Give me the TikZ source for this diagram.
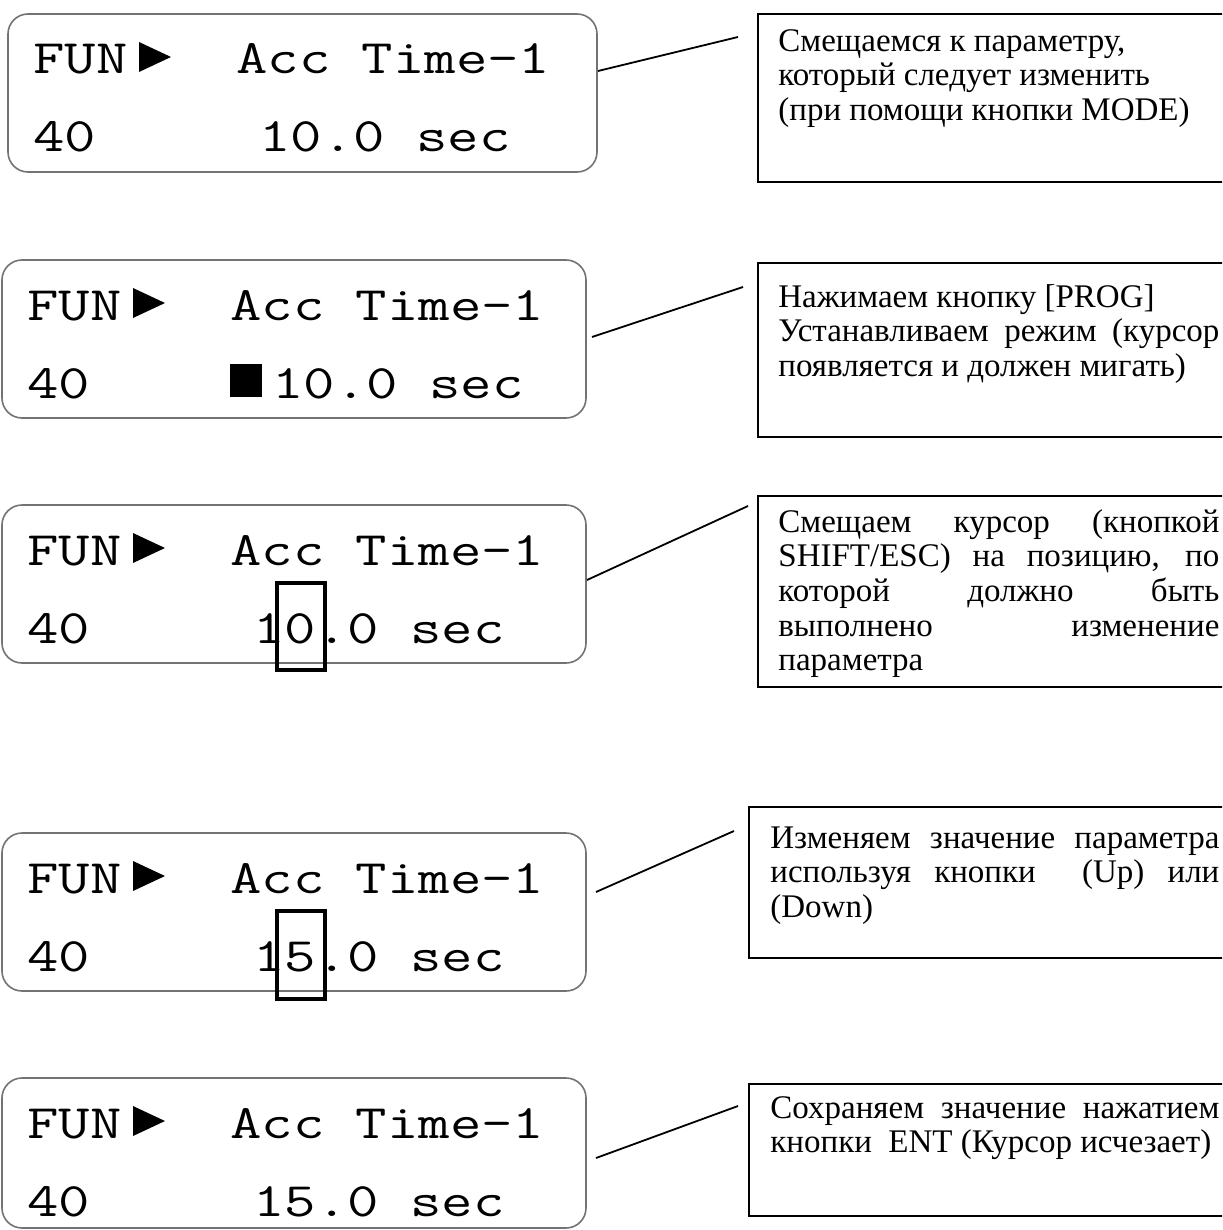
\documentclass[tikz,border=0pt]{standalone}
\usepackage{fontspec}
\setmainfont{Liberation Serif}
\usepackage{graphicx}
\tolerance=10000
\hyphenpenalty=10000
\hbadness=10000
\newcommand{\lcdstr}[1]{\scalebox{1.27}[1]{#1}}
\begin{document}
\begin{tikzpicture}[x=0.5pt,y=-0.5pt,
    lcd/.style={draw=black!55,line width=0.8pt,rounded corners=10pt,anchor=north west,
        inner sep=0pt,outer sep=0pt,minimum width=292pt,minimum height=79pt},
    lcdtext/.style={anchor=base west,inner sep=0pt,font=\ttfamily\fontsize{24}{24}\selectfont},
    cursor/.style={draw,line width=1.8pt},
    note/.style={draw,line width=0.9pt,anchor=north west,inner sep=0pt,outer sep=0pt,minimum width=240pt},
    notetext/.style={anchor=north west,inner sep=0pt,align=justify,text width=220.5pt,
        font=\fontsize{16.5}{17.3}\selectfont},
    link/.style={line width=0.9pt}]
\useasboundingbox (0,0) rectangle (1222,1230);
\clip (0,0) rectangle (1222,1230);

% displays
\begin{scope}[shift={(8,14)}]
    \node[lcd,minimum width=294.5pt] (lcd1) at (0,0) {};
    \node[lcdtext] (fun1) at (25,60) {\lcdstr{FUN}};
    \fill (131,28) -- (163,43) -- (131,58) -- cycle;
    \node[lcdtext] (acc1) at (228,60) {\lcdstr{Acc Time-1}};
    \node[lcdtext] (num1) at (25,138) {\lcdstr{40}};
    \node[lcdtext] (val1) at (251,138) {\lcdstr{10.0 sec}};
\end{scope}
\begin{scope}[shift={(2,260)}]
    \node[lcd] (lcd2) at (0,0) {};
    \node[lcdtext] (fun2) at (25,60) {\lcdstr{FUN}};
    \fill (131,28) -- (163,43) -- (131,58) -- cycle;
    \node[lcdtext] (acc2) at (228,60) {\lcdstr{Acc Time-1}};
    \node[lcdtext] (num2) at (25,138) {\lcdstr{40}};
    \fill (228,104) rectangle (260,137);
    \node[lcdtext] (val2) at (270,138) {\lcdstr{10.0 sec}};
\end{scope}
\begin{scope}[shift={(2,505)}]
    \node[lcd] (lcd3) at (0,0) {};
    \node[lcdtext] (fun3) at (25,60) {\lcdstr{FUN}};
    \fill (131,28) -- (163,43) -- (131,58) -- cycle;
    \node[lcdtext] (acc3) at (228,60) {\lcdstr{Acc Time-1}};
    \node[lcdtext] (num3) at (25,138) {\lcdstr{40}};
    \node[lcdtext] (val3) at (251,138) {\lcdstr{10.0 sec}};
    \draw[cursor] (275,78) rectangle (323,165);
\end{scope}
\begin{scope}[shift={(2,833)}]
    \node[lcd] (lcd4) at (0,0) {};
    \node[lcdtext] (fun4) at (25,60) {\lcdstr{FUN}};
    \fill (131,28) -- (163,43) -- (131,58) -- cycle;
    \node[lcdtext] (acc4) at (228,60) {\lcdstr{Acc Time-1}};
    \node[lcdtext] (num4) at (25,138) {\lcdstr{40}};
    \node[lcdtext] (val4) at (251,138) {\lcdstr{15.0 sec}};
    \draw[cursor] (275,78) rectangle (323,166);
\end{scope}
\begin{scope}[shift={(2,1078)}]
    \node[lcd,minimum height=75pt] (lcd5) at (0,0) {};
    \node[lcdtext] (fun5) at (25,60) {\lcdstr{FUN}};
    \fill (131,28) -- (163,43) -- (131,58) -- cycle;
    \node[lcdtext] (acc5) at (228,60) {\lcdstr{Acc Time-1}};
    \node[lcdtext] (num5) at (25,138) {\lcdstr{40}};
    \node[lcdtext] (val5) at (251,138) {\lcdstr{15.0 sec}};
\end{scope}

% notes
\node[note,minimum height=84pt] (box1) at (758,14) {};
\node[notetext] (txt1) at ([shift={(20,15)}]box1.north west)
    {Смещаемся к параметру,\\ который следует изменить\\ (при помощи кнопки MODE)};
\node[note,minimum height=87pt] (box2) at (758,263) {};
\node[notetext] (txt2) at ([shift={(20,21)}]box2.north west)
    {Нажимаем кнопку [PROG]\\ Устанавливаем режим (курсор\linebreak появляется и должен мигать)};
\node[note,minimum height=95.5pt] (box3) at (758,496) {};
\node[notetext] (txt3) at ([shift={(20,13)}]box3.north west)
    {Смещаем курсор (кнопкой\linebreak SHIFT/ESC) на позицию, по\linebreak которой должно быть\linebreak
     выполнено изменение\linebreak параметра};
\node[note,minimum height=75.5pt] (box4) at (749,807) {};
\node[notetext,text width=224.5pt] (txt4) at ([shift={(21,19)}]box4.north west)
    {Изменяем значение параметра\linebreak используя кнопки\ \ (Up) или\linebreak (Down)};
\node[note,minimum height=66pt] (box5) at (749,1084) {};
\node[notetext,text width=224.5pt] (txt5) at ([shift={(21,12)}]box5.north west)
    {Сохраняем значение нажатием\linebreak кнопки\ \ ENT (Курсор исчезает)};

% links
\draw[link] ([shift={(1,-22)}]lcd1.east) -- ([shift={(-20,23)}]box1.north west);
\draw[link] ([shift={(6,-2)}]lcd2.east) -- ([shift={(-15,24)}]box2.north west);
\draw[link] ([shift={(1,-4)}]lcd3.east) -- ([shift={(-10,10)}]box3.north west);
\draw[link] ([shift={(10,-20)}]lcd4.east) -- ([shift={(-15,24)}]box4.north west);
\draw[link] ([shift={(10,5)}]lcd5.east) -- ([shift={(-11,22)}]box5.north west);
\end{tikzpicture}
\end{document}
